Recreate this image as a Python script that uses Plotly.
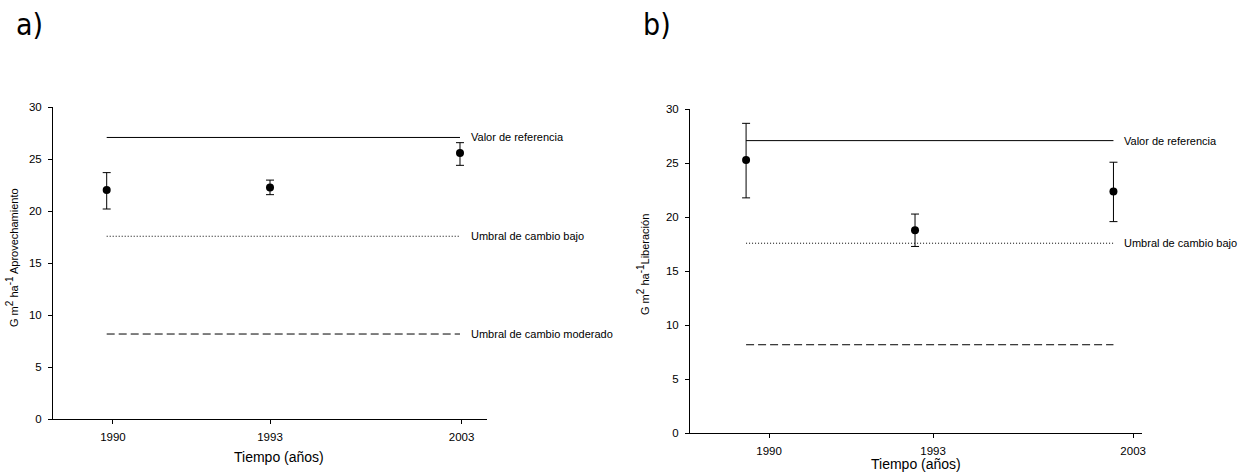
import plotly.graph_objects as go

# Survey years and their positions along the time axis
years = ["1990", "1993", "2003"]
tick_pos = [1.0, 2.0, 3.22]

# a) Aprovechamiento: basal area means and error bars
a_x = [0.96, 2.0, 3.21]
a_mean = [22.05, 22.3, 25.6]
a_err_up = [1.67, 0.7, 1.0]
a_err_down = [1.83, 0.7, 1.18]

# b) Liberación: basal area means and error bars
b_x = [0.86, 1.89, 3.10]
b_mean = [25.3, 18.8, 22.4]
b_err_up = [3.4, 1.5, 2.7]
b_err_down = [3.5, 1.5, 2.8]

# Reference value and change thresholds
ref_value = 27.1
low_threshold = 17.6
moderate_threshold = 8.2

W, H = 1257, 472
FONT = "Liberation Sans, Arial, sans-serif"
NARROW = "Liberation Sans Narrow, Arial Narrow, DejaVu Sans Condensed, Roboto Condensed, Roboto, sans-serif"

fig = go.Figure()


def add_panel(xs, means, up, down, xa, ya, labels):
    x0, x1 = xs[0], xs[-1]
    levels = [
        (ref_value, "solid", labels[0]),
        (low_threshold, "1px,2px", labels[1]),
        (moderate_threshold, "8px,4px", labels[2]),
    ]
    for val, dash, text in levels:
        fig.add_trace(go.Scatter(
            x=[x0, x1], y=[val, val], mode="lines",
            line=dict(color="black", width=1, dash=dash),
            xaxis=xa, yaxis=ya, showlegend=False, hoverinfo="skip"))
        if text:
            fig.add_annotation(
                x=x1, y=val, xref=xa, yref=ya, text=text, showarrow=False,
                xanchor="left", yanchor="middle", xshift=9,
                font=dict(family=FONT, size=11, color="black"))
    fig.add_trace(go.Scatter(
        x=xs, y=means, mode="markers",
        marker=dict(color="black", size=8),
        error_y=dict(type="data", symmetric=False, array=up, arrayminus=down,
                     color="black", thickness=1, width=4),
        xaxis=xa, yaxis=ya, showlegend=False))


add_panel(a_x, a_mean, a_err_up, a_err_down, "x", "y",
          ["Valor de referencia", "Umbral de cambio bajo", "Umbral de cambio moderado"])
add_panel(b_x, b_mean, b_err_up, b_err_down, "x2", "y2",
          ["Valor de referencia", "Umbral de cambio bajo", None])


def px_x(p):
    return p / W


def px_y(p):
    return 1 - p / H


axis_common = dict(
    showline=True, linecolor="black", linewidth=1, showgrid=False, zeroline=False,
    ticks="outside", ticklen=4, tickcolor="black", tickwidth=1,
    tickfont=dict(family=FONT, size=11.5, color="black"),
)

fig.update_layout(
    width=W, height=H,
    margin=dict(l=0, r=0, t=0, b=0),
    paper_bgcolor="white", plot_bgcolor="white",
    template="none",
    xaxis=dict(domain=[px_x(53), px_x(487)], range=[0.618, 3.382], anchor="y",
               tickvals=tick_pos, ticktext=years, ticklabelstandoff=3, **axis_common),
    yaxis=dict(domain=[px_y(419.3), px_y(107.3)], range=[0, 30], anchor="x",
               tickvals=[0, 5, 10, 15, 20, 25, 30], ticklabelstandoff=4, **axis_common),
    xaxis2=dict(domain=[px_x(690), px_x(1142)], range=[0.518, 3.274], anchor="y2",
                tickvals=tick_pos, ticktext=years, ticklabelstandoff=3, **axis_common),
    yaxis2=dict(domain=[px_y(433.3), px_y(109.3)], range=[0, 30], anchor="x2",
                tickvals=[0, 5, 10, 15, 20, 25, 30], ticklabelstandoff=4, **axis_common),
)

# Panel letters
for txt, xp in [("a)", 14), ("b)", 641)]:
    fig.add_annotation(x=px_x(xp), y=px_y(5), xref="paper", yref="paper",
                       text=txt, showarrow=False, xanchor="left", yanchor="top",
                       font=dict(family=NARROW, size=30, color="black"))

# Axis titles
for xc, yt in [(279, 447), (916, 454)]:
    fig.add_annotation(x=px_x(xc), y=px_y(yt), xref="paper", yref="paper",
                       text="Tiempo (años)", showarrow=False,
                       xanchor="center", yanchor="top",
                       font=dict(family=FONT, size=14, color="black"))

SUP = "<sup><span style='font-size:10px'>{}</span></sup>"
for xc, yc, txt in [
    (12, 258, "G m" + SUP.format("2") + " ha" + SUP.format("-1") + " Aprovechamiento"),
    (643, 265, "G m" + SUP.format("2") + " ha" + SUP.format("-1") + "Liberación"),
]:
    fig.add_annotation(x=px_x(xc), y=px_y(yc), xref="paper", yref="paper",
                       text=txt, showarrow=False, textangle=-90,
                       xanchor="center", yanchor="middle",
                       font=dict(family=FONT, size=11, color="black"))

fig.write_html("out.html")
